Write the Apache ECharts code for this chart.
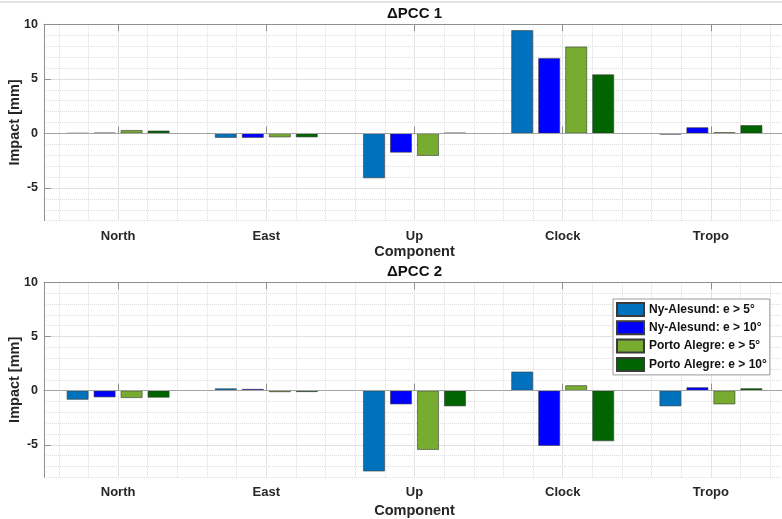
<!DOCTYPE html>
<html><head><meta charset="utf-8">
<script src="https://cdn.jsdelivr.net/npm/echarts@6/dist/echarts.min.js"></script>
<style>html,body{margin:0;padding:0;background:#fff}#c{width:782px;height:519px}</style>
</head><body><div id="c"></div>
<script>
// ---- data ----
const categories = ['North', 'East', 'Up', 'Clock', 'Tropo'];
const seriesNames = ['Ny-Alesund: e > 5°', 'Ny-Alesund: e > 10°', 'Porto Alegre: e > 5°', 'Porto Alegre: e > 10°'];
const panelTitles = ['ΔPCC 1', 'ΔPCC 2'];
// ΔPCC 1
const pcc1_nyA5  = [0.02, -0.4, -4.1, 9.45, -0.1];
const pcc1_nyA10 = [0.06, -0.4, -1.75, 6.9, 0.55];
const pcc1_poA5  = [0.3, -0.35, -2.05, 7.95, 0.1];
const pcc1_poA10 = [0.25, -0.35, 0.05, 5.4, 0.75];
// ΔPCC 2
const pcc2_nyA5  = [-0.83, 0.2, -7.45, 1.75, -1.44];
const pcc2_nyA10 = [-0.61, 0.15, -1.26, -5.09, 0.3];
const pcc2_poA5  = [-0.67, -0.13, -5.46, 0.49, -1.26];
const pcc2_poA10 = [-0.64, -0.12, -1.44, -4.66, 0.21];
const yMin = -8, yMax = 10, yMajorStart = -5, yMajorStep = 5;

const panelData = [
  [pcc1_nyA5, pcc1_nyA10, pcc1_poA5, pcc1_poA10],
  [pcc2_nyA5, pcc2_nyA10, pcc2_poA5, pcc2_poA10]
];
const colors = ['#0072BD', '#0000FF', '#77AC30', '#006400'];

// ---- layout ----
const L = 44, W = 741;
const panels = [{ top: 24.3, h: 196.4, nameGap: 23.5, titleY: 14 }, { top: 282.3, h: 195, nameGap: 26.5, titleY: 272 }];
const FONT = 'Liberation Sans, Arial, sans-serif';
const TXT = '#262626';
const AXC = '#8f8f8f';
const MAJ = '#e4e4e4';
const MIN = '#dcdcdc';

const grids = [], xAxes = [], yAxes = [], series = [], graphics = [];

graphics.push({ type: 'rect', shape: { x: 0, y: 1, width: 782, height: 2 }, style: { fill: '#e3e3e3' }, silent: true });

panels.forEach((P, p) => {
  const T = P.top, H = P.h;
  const gMain = grids.length;
  grids.push({ left: L, top: T, width: W, height: H, containLabel: false, outerBoundsMode: 'none' });
  const gYMaj = grids.length;
  grids.push({ left: L, top: T, width: W, height: H * (yMax - yMajorStart) / (yMax - yMin), containLabel: false, outerBoundsMode: 'none' });
  const gVMin = grids.length;
  grids.push({ left: L + W * 0.02, top: T, width: W * 0.96, height: H, containLabel: false, outerBoundsMode: 'none' });
  const gVMaj = grids.length;
  grids.push({ left: L + W * 0.1, top: T, width: W * 0.8, height: H, containLabel: false, outerBoundsMode: 'none' });

  xAxes.push({ type: 'value', gridIndex: gVMin, min: 0, max: 24, interval: 1,
    axisLine: { show: false }, axisTick: { show: false }, axisLabel: { show: false },
    splitLine: { show: true, lineStyle: { color: MIN, type: 'dotted', width: 1 } } });
  yAxes.push({ type: 'value', gridIndex: gVMin, show: false, min: 0, max: 1 });
  xAxes.push({ type: 'value', gridIndex: gVMaj, min: 0, max: 4, interval: 1,
    axisLine: { show: false }, axisTick: { show: false }, axisLabel: { show: false },
    splitLine: { show: true, lineStyle: { color: MAJ, type: 'solid', width: 1 } } });
  yAxes.push({ type: 'value', gridIndex: gVMaj, show: false, min: 0, max: 1 });
  xAxes.push({ type: 'value', gridIndex: gYMaj, show: false, min: 0, max: 1 });
  yAxes.push({ type: 'value', gridIndex: gYMaj, min: yMajorStart, max: yMax, interval: yMajorStep,
    axisLine: { show: false },
    axisTick: { show: true, inside: true, length: 7, lineStyle: { color: AXC } },
    axisLabel: { show: true, margin: 6, color: TXT, fontFamily: FONT, fontWeight: 'bold', fontSize: 12.5 },
    splitLine: { show: true, lineStyle: { color: MAJ, type: 'solid', width: 1 } } });

  const xMain = xAxes.length;
  xAxes.push({ type: 'category', gridIndex: gMain, data: categories, position: 'bottom', boundaryGap: true,
    axisLine: { show: true, lineStyle: { color: AXC, width: 1 } },
    axisTick: { show: true, alignWithLabel: true, inside: true, length: 7, lineStyle: { color: AXC } },
    axisLabel: { show: true, margin: 9, color: TXT, fontFamily: FONT, fontWeight: 'bold', fontSize: 13 },
    splitLine: { show: false },
    name: 'Component', nameLocation: 'middle', nameGap: P.nameGap,
    nameTextStyle: { color: TXT, fontFamily: FONT, fontWeight: 'bold', fontSize: 14.5 } });
  xAxes.push({ type: 'category', gridIndex: gMain, data: categories, position: 'top', boundaryGap: true,
    axisLine: { show: true, lineStyle: { color: AXC, width: 1 } },
    axisTick: { show: true, alignWithLabel: true, inside: true, length: 7, lineStyle: { color: AXC } },
    axisLabel: { show: false }, splitLine: { show: false } });
  const yMain = yAxes.length;
  yAxes.push({ type: 'value', gridIndex: gMain, min: yMin, max: yMax, interval: 1,
    axisLine: { show: true, lineStyle: { color: AXC, width: 1 } },
    axisTick: { show: false }, axisLabel: { show: false },
    splitLine: { show: true, lineStyle: { color: MIN, type: 'dotted', width: 1 } },
    name: 'Impact [mm]', nameLocation: 'middle', nameGap: 22,
    nameTextStyle: { color: TXT, fontFamily: FONT, fontWeight: 'bold', fontSize: 14.5 } });

  panelData[p].forEach((vals, s) => {
    const ser = {
      type: 'bar', name: seriesNames[s], xAxisIndex: xMain, yAxisIndex: yMain, data: vals,
      barWidth: 21.7, barGap: '24.4%',
      itemStyle: { color: colors[s], borderColor: '#3a3a3a', borderWidth: 0.6 },
      emphasis: { disabled: true }, animation: false, z: 3
    };
    if (s === 0) {
      ser.markLine = { silent: true, symbol: 'none', animation: false,
        label: { show: false }, data: [{ yAxis: 0 }],
        lineStyle: { color: '#a3a3a3', type: 'solid', width: 1 } };
    }
    series.push(ser);
  });

  graphics.push({ type: 'text', x: L + W / 2, y: P.titleY, silent: true,
    style: { text: panelTitles[p], fill: '#111', font: 'bold 15px ' + FONT, textAlign: 'center', textVerticalAlign: 'middle' } });
});

const chart = echarts.init(document.getElementById('c'), null, { renderer: 'canvas' });
chart.setOption({
  backgroundColor: '#fff',
  animation: false,
  grid: grids, xAxis: xAxes, yAxis: yAxes, series: series,
  legend: {
    show: true, orient: 'vertical', left: 613, top: 299,
    itemWidth: 27, itemHeight: 13, itemGap: 3.3, padding: [3, 3, 3, 3],
    borderColor: '#9a9a9a', borderWidth: 1, backgroundColor: '#fff', borderRadius: 0,
    icon: 'rect', data: seriesNames, selectedMode: false,
    textStyle: { color: '#111', fontFamily: FONT, fontWeight: 'bold', fontSize: 12 }
  },
  graphic: graphics
});
</script></body></html>
